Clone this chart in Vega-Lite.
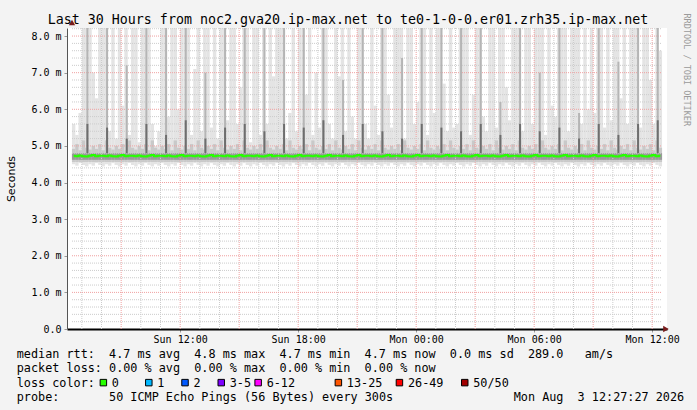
{
  "$schema": "https://vega.github.io/schema/vega-lite/v6.json",
  "background": "#f3f3f3",
  "padding": {"left": 5, "top": 13, "right": 6, "bottom": 6},
  "spacing": 3,
  "title": {"text": "RRDTOOL / TOBI OETIKER", "orient": "right", "anchor": "start", "font": "DejaVu Sans Mono", "fontSize": 8.5, "fontWeight": "normal", "color": "#9a9a9a", "offset": -2},
  "config": {"view": {"stroke": null}, "axisY": {"labelOverlap": false}},
  "datasets": {
    "smoke": [
      {"t":"2026-08-02T06:35","lo":4.5,"p":4.92,"hi":5.6,"m":4.73},
      {"t":"2026-08-02T06:45","lo":4.46,"p":5.05,"hi":5.3,"m":4.72},
      {"t":"2026-08-02T06:55","lo":4.53,"p":4.88,"hi":5.9,"m":4.74},
      {"t":"2026-08-02T07:05","lo":4.48,"p":5.15,"hi":8.4,"m":4.72},
      {"t":"2026-08-02T07:15","lo":4.44,"p":4.95,"hi":8.4,"m":4.71},
      {"t":"2026-08-02T07:25","lo":4.5,"p":4.9,"hi":8.4,"m":4.73},
      {"t":"2026-08-02T07:35","lo":4.46,"p":5.0,"hi":7.0,"m":4.75},
      {"t":"2026-08-02T07:45","lo":4.53,"p":4.92,"hi":6.3,"m":4.72},
      {"t":"2026-08-02T07:55","lo":4.48,"p":5.05,"hi":8.4,"m":4.73},
      {"t":"2026-08-02T08:05","lo":4.44,"p":4.88,"hi":8.4,"m":4.73},
      {"t":"2026-08-02T08:15","lo":4.5,"p":5.15,"hi":8.4,"m":4.72},
      {"t":"2026-08-02T08:25","lo":4.46,"p":4.95,"hi":5.4,"m":4.74},
      {"t":"2026-08-02T08:35","lo":4.53,"p":4.9,"hi":8.4,"m":4.72},
      {"t":"2026-08-02T08:45","lo":4.48,"p":5.0,"hi":5.2,"m":4.71},
      {"t":"2026-08-02T08:55","lo":4.44,"p":4.92,"hi":8.4,"m":4.73},
      {"t":"2026-08-02T09:05","lo":4.5,"p":5.05,"hi":6.1,"m":4.75},
      {"t":"2026-08-02T09:15","lo":4.46,"p":4.88,"hi":8.4,"m":4.72},
      {"t":"2026-08-02T09:25","lo":4.53,"p":5.15,"hi":5.3,"m":4.73},
      {"t":"2026-08-02T09:35","lo":4.48,"p":4.95,"hi":8.4,"m":4.73},
      {"t":"2026-08-02T09:45","lo":4.44,"p":4.9,"hi":8.4,"m":4.72},
      {"t":"2026-08-02T09:55","lo":4.5,"p":5.0,"hi":5.1,"m":4.74},
      {"t":"2026-08-02T10:05","lo":4.46,"p":4.92,"hi":8.4,"m":4.72},
      {"t":"2026-08-02T10:15","lo":4.53,"p":5.05,"hi":8.4,"m":4.71},
      {"t":"2026-08-02T10:25","lo":4.48,"p":4.88,"hi":8.4,"m":4.73},
      {"t":"2026-08-02T10:35","lo":4.44,"p":5.15,"hi":5.6,"m":4.75},
      {"t":"2026-08-02T10:45","lo":4.5,"p":4.95,"hi":5.0,"m":4.72},
      {"t":"2026-08-02T10:55","lo":4.46,"p":4.9,"hi":5.4,"m":4.73},
      {"t":"2026-08-02T11:05","lo":4.53,"p":5.0,"hi":8.4,"m":4.73},
      {"t":"2026-08-02T11:15","lo":4.48,"p":4.92,"hi":8.4,"m":4.72},
      {"t":"2026-08-02T11:25","lo":4.44,"p":5.05,"hi":5.8,"m":4.74},
      {"t":"2026-08-02T11:35","lo":4.5,"p":4.88,"hi":8.4,"m":4.72},
      {"t":"2026-08-02T11:45","lo":4.46,"p":5.15,"hi":8.4,"m":4.71},
      {"t":"2026-08-02T11:55","lo":4.53,"p":4.95,"hi":6.0,"m":4.73},
      {"t":"2026-08-02T12:05","lo":4.48,"p":4.9,"hi":8.4,"m":4.75},
      {"t":"2026-08-02T12:15","lo":4.44,"p":5.0,"hi":8.4,"m":4.72},
      {"t":"2026-08-02T12:25","lo":4.5,"p":4.92,"hi":8.4,"m":4.73},
      {"t":"2026-08-02T12:35","lo":4.46,"p":5.05,"hi":5.3,"m":4.73},
      {"t":"2026-08-02T12:45","lo":4.53,"p":4.88,"hi":7.1,"m":4.72},
      {"t":"2026-08-02T12:55","lo":4.48,"p":5.15,"hi":8.4,"m":4.74},
      {"t":"2026-08-02T13:05","lo":4.44,"p":4.95,"hi":5.4,"m":4.72},
      {"t":"2026-08-02T13:15","lo":4.5,"p":4.9,"hi":8.4,"m":4.71},
      {"t":"2026-08-02T13:25","lo":4.46,"p":5.0,"hi":8.4,"m":4.73},
      {"t":"2026-08-02T13:35","lo":4.53,"p":4.92,"hi":5.5,"m":4.75},
      {"t":"2026-08-02T13:45","lo":4.48,"p":5.05,"hi":8.4,"m":4.72},
      {"t":"2026-08-02T13:55","lo":4.44,"p":4.88,"hi":5.2,"m":4.73},
      {"t":"2026-08-02T14:05","lo":4.5,"p":5.15,"hi":8.4,"m":4.73},
      {"t":"2026-08-02T14:15","lo":4.46,"p":4.95,"hi":8.4,"m":4.72},
      {"t":"2026-08-02T14:25","lo":4.53,"p":4.9,"hi":5.7,"m":4.74},
      {"t":"2026-08-02T14:35","lo":4.48,"p":5.0,"hi":8.4,"m":4.72},
      {"t":"2026-08-02T14:45","lo":4.44,"p":4.92,"hi":8.4,"m":4.71},
      {"t":"2026-08-02T14:55","lo":4.5,"p":5.05,"hi":5.6,"m":4.73},
      {"t":"2026-08-02T15:05","lo":4.46,"p":4.88,"hi":6.6,"m":4.75},
      {"t":"2026-08-02T15:15","lo":4.53,"p":5.15,"hi":8.4,"m":4.72},
      {"t":"2026-08-02T15:25","lo":4.48,"p":4.95,"hi":8.4,"m":4.73},
      {"t":"2026-08-02T15:35","lo":4.44,"p":4.9,"hi":5.1,"m":4.73},
      {"t":"2026-08-02T15:45","lo":4.5,"p":5.0,"hi":8.4,"m":4.72},
      {"t":"2026-08-02T15:55","lo":4.46,"p":4.92,"hi":8.4,"m":4.74},
      {"t":"2026-08-02T16:05","lo":4.53,"p":5.05,"hi":5.3,"m":4.72},
      {"t":"2026-08-02T16:15","lo":4.48,"p":4.88,"hi":8.4,"m":4.71},
      {"t":"2026-08-02T16:25","lo":4.44,"p":5.15,"hi":5.6,"m":4.73},
      {"t":"2026-08-02T16:35","lo":4.5,"p":4.95,"hi":8.4,"m":4.75},
      {"t":"2026-08-02T16:45","lo":4.46,"p":4.9,"hi":6.9,"m":4.72},
      {"t":"2026-08-02T16:55","lo":4.53,"p":5.0,"hi":8.4,"m":4.73},
      {"t":"2026-08-02T17:05","lo":4.48,"p":4.92,"hi":8.4,"m":4.73},
      {"t":"2026-08-02T17:15","lo":4.44,"p":5.05,"hi":8.4,"m":4.72},
      {"t":"2026-08-02T17:25","lo":4.5,"p":4.88,"hi":5.2,"m":4.74},
      {"t":"2026-08-02T17:35","lo":4.46,"p":5.15,"hi":5.9,"m":4.72},
      {"t":"2026-08-02T17:45","lo":4.53,"p":4.95,"hi":8.4,"m":4.71},
      {"t":"2026-08-02T17:55","lo":4.48,"p":4.9,"hi":5.4,"m":4.73},
      {"t":"2026-08-02T18:05","lo":4.44,"p":5.0,"hi":8.4,"m":4.75},
      {"t":"2026-08-02T18:15","lo":4.5,"p":4.92,"hi":8.4,"m":4.72},
      {"t":"2026-08-02T18:25","lo":4.46,"p":5.05,"hi":6.4,"m":4.73},
      {"t":"2026-08-02T18:35","lo":4.53,"p":4.88,"hi":8.4,"m":4.73},
      {"t":"2026-08-02T18:45","lo":4.48,"p":5.15,"hi":5.3,"m":4.72},
      {"t":"2026-08-02T18:55","lo":4.44,"p":4.95,"hi":7.0,"m":4.74},
      {"t":"2026-08-02T19:05","lo":4.5,"p":4.9,"hi":5.5,"m":4.72},
      {"t":"2026-08-02T19:15","lo":4.46,"p":5.0,"hi":8.4,"m":4.71},
      {"t":"2026-08-02T19:25","lo":4.53,"p":4.92,"hi":8.4,"m":4.73},
      {"t":"2026-08-02T19:35","lo":4.48,"p":5.05,"hi":5.6,"m":4.75},
      {"t":"2026-08-02T19:45","lo":4.44,"p":4.88,"hi":5.2,"m":4.72},
      {"t":"2026-08-02T19:55","lo":4.5,"p":5.15,"hi":8.4,"m":4.73},
      {"t":"2026-08-02T20:05","lo":4.46,"p":4.95,"hi":6.9,"m":4.73},
      {"t":"2026-08-02T20:15","lo":4.53,"p":4.9,"hi":8.4,"m":4.72},
      {"t":"2026-08-02T20:25","lo":4.48,"p":5.0,"hi":5.4,"m":4.74},
      {"t":"2026-08-02T20:35","lo":4.44,"p":4.92,"hi":8.4,"m":4.72},
      {"t":"2026-08-02T20:45","lo":4.5,"p":5.05,"hi":5.8,"m":4.71},
      {"t":"2026-08-02T20:55","lo":4.46,"p":4.88,"hi":5.2,"m":4.73},
      {"t":"2026-08-02T21:05","lo":4.53,"p":5.15,"hi":8.4,"m":4.75},
      {"t":"2026-08-02T21:15","lo":4.48,"p":4.95,"hi":8.4,"m":4.72},
      {"t":"2026-08-02T21:25","lo":4.44,"p":4.9,"hi":5.6,"m":4.73},
      {"t":"2026-08-02T21:35","lo":4.5,"p":5.0,"hi":5.2,"m":4.73},
      {"t":"2026-08-02T21:45","lo":4.46,"p":4.92,"hi":8.4,"m":4.72},
      {"t":"2026-08-02T21:55","lo":4.53,"p":5.05,"hi":6.1,"m":4.74},
      {"t":"2026-08-02T22:05","lo":4.48,"p":4.88,"hi":5.3,"m":4.72},
      {"t":"2026-08-02T22:15","lo":4.44,"p":5.15,"hi":8.4,"m":4.71},
      {"t":"2026-08-02T22:25","lo":4.5,"p":4.95,"hi":8.4,"m":4.73},
      {"t":"2026-08-02T22:35","lo":4.46,"p":4.9,"hi":6.4,"m":4.75},
      {"t":"2026-08-02T22:45","lo":4.53,"p":5.0,"hi":5.5,"m":4.72},
      {"t":"2026-08-02T22:55","lo":4.48,"p":4.92,"hi":8.4,"m":4.73},
      {"t":"2026-08-02T23:05","lo":4.44,"p":5.05,"hi":8.4,"m":4.73},
      {"t":"2026-08-02T23:15","lo":4.5,"p":4.88,"hi":8.4,"m":4.72},
      {"t":"2026-08-02T23:25","lo":4.46,"p":5.15,"hi":5.2,"m":4.74},
      {"t":"2026-08-02T23:35","lo":4.53,"p":4.95,"hi":8.4,"m":4.72},
      {"t":"2026-08-02T23:45","lo":4.48,"p":4.9,"hi":8.4,"m":4.71},
      {"t":"2026-08-02T23:55","lo":4.44,"p":5.0,"hi":5.6,"m":4.73},
      {"t":"2026-08-03T00:05","lo":4.5,"p":4.92,"hi":6.2,"m":4.75},
      {"t":"2026-08-03T00:15","lo":4.46,"p":5.05,"hi":8.4,"m":4.72},
      {"t":"2026-08-03T00:25","lo":4.53,"p":4.88,"hi":8.4,"m":4.73},
      {"t":"2026-08-03T00:35","lo":4.48,"p":5.15,"hi":5.3,"m":4.73},
      {"t":"2026-08-03T00:45","lo":4.44,"p":4.95,"hi":8.4,"m":4.72},
      {"t":"2026-08-03T00:55","lo":4.5,"p":4.9,"hi":5.9,"m":4.74},
      {"t":"2026-08-03T01:05","lo":4.46,"p":5.0,"hi":8.4,"m":4.72},
      {"t":"2026-08-03T01:15","lo":4.53,"p":4.92,"hi":8.4,"m":4.71},
      {"t":"2026-08-03T01:25","lo":4.48,"p":5.05,"hi":6.7,"m":4.73},
      {"t":"2026-08-03T01:35","lo":4.44,"p":4.88,"hi":5.4,"m":4.75},
      {"t":"2026-08-03T01:45","lo":4.5,"p":5.15,"hi":8.4,"m":4.72},
      {"t":"2026-08-03T01:55","lo":4.46,"p":4.95,"hi":5.5,"m":4.73},
      {"t":"2026-08-03T02:05","lo":4.53,"p":4.9,"hi":5.6,"m":4.73},
      {"t":"2026-08-03T02:15","lo":4.48,"p":5.0,"hi":8.4,"m":4.72},
      {"t":"2026-08-03T02:25","lo":4.44,"p":4.92,"hi":8.4,"m":4.74},
      {"t":"2026-08-03T02:35","lo":4.5,"p":5.05,"hi":8.4,"m":4.72},
      {"t":"2026-08-03T02:45","lo":4.46,"p":4.88,"hi":5.3,"m":4.71},
      {"t":"2026-08-03T02:55","lo":4.53,"p":5.15,"hi":6.4,"m":4.73},
      {"t":"2026-08-03T03:05","lo":4.48,"p":4.95,"hi":8.4,"m":4.75},
      {"t":"2026-08-03T03:15","lo":4.44,"p":4.9,"hi":8.4,"m":4.72},
      {"t":"2026-08-03T03:25","lo":4.5,"p":5.0,"hi":5.8,"m":4.73},
      {"t":"2026-08-03T03:35","lo":4.46,"p":4.92,"hi":5.4,"m":4.73},
      {"t":"2026-08-03T03:45","lo":4.53,"p":5.05,"hi":8.4,"m":4.72},
      {"t":"2026-08-03T03:55","lo":4.48,"p":4.88,"hi":8.4,"m":4.74},
      {"t":"2026-08-03T04:05","lo":4.44,"p":5.15,"hi":5.5,"m":4.72},
      {"t":"2026-08-03T04:15","lo":4.5,"p":4.95,"hi":8.4,"m":4.71},
      {"t":"2026-08-03T04:25","lo":4.46,"p":4.9,"hi":8.4,"m":4.73},
      {"t":"2026-08-03T04:35","lo":4.53,"p":5.0,"hi":6.6,"m":4.75},
      {"t":"2026-08-03T04:45","lo":4.48,"p":4.92,"hi":5.7,"m":4.72},
      {"t":"2026-08-03T04:55","lo":4.44,"p":5.05,"hi":8.4,"m":4.73},
      {"t":"2026-08-03T05:05","lo":4.5,"p":4.88,"hi":8.4,"m":4.73},
      {"t":"2026-08-03T05:15","lo":4.46,"p":5.15,"hi":8.4,"m":4.72},
      {"t":"2026-08-03T05:25","lo":4.53,"p":4.95,"hi":5.4,"m":4.74},
      {"t":"2026-08-03T05:35","lo":4.48,"p":4.9,"hi":8.4,"m":4.72},
      {"t":"2026-08-03T05:45","lo":4.44,"p":5.0,"hi":8.4,"m":4.71},
      {"t":"2026-08-03T05:55","lo":4.5,"p":4.92,"hi":5.6,"m":4.73},
      {"t":"2026-08-03T06:05","lo":4.46,"p":5.05,"hi":8.4,"m":4.75},
      {"t":"2026-08-03T06:15","lo":4.53,"p":4.88,"hi":8.4,"m":4.72},
      {"t":"2026-08-03T06:25","lo":4.48,"p":5.15,"hi":8.4,"m":4.73},
      {"t":"2026-08-03T06:35","lo":4.44,"p":4.95,"hi":5.3,"m":4.73},
      {"t":"2026-08-03T06:45","lo":4.5,"p":4.9,"hi":8.4,"m":4.72},
      {"t":"2026-08-03T06:55","lo":4.46,"p":5.0,"hi":6.1,"m":4.74},
      {"t":"2026-08-03T07:05","lo":4.53,"p":4.92,"hi":5.8,"m":4.72},
      {"t":"2026-08-03T07:15","lo":4.48,"p":5.05,"hi":8.4,"m":4.71},
      {"t":"2026-08-03T07:25","lo":4.44,"p":4.88,"hi":8.4,"m":4.73},
      {"t":"2026-08-03T07:35","lo":4.5,"p":5.15,"hi":8.4,"m":4.75},
      {"t":"2026-08-03T07:45","lo":4.46,"p":4.95,"hi":5.4,"m":4.72},
      {"t":"2026-08-03T07:55","lo":4.53,"p":4.9,"hi":8.4,"m":4.73},
      {"t":"2026-08-03T08:05","lo":4.48,"p":5.0,"hi":8.4,"m":4.73},
      {"t":"2026-08-03T08:15","lo":4.44,"p":4.92,"hi":8.4,"m":4.72},
      {"t":"2026-08-03T08:25","lo":4.5,"p":5.05,"hi":5.6,"m":4.74},
      {"t":"2026-08-03T08:35","lo":4.46,"p":4.88,"hi":8.4,"m":4.72},
      {"t":"2026-08-03T08:45","lo":4.53,"p":5.15,"hi":6.0,"m":4.71},
      {"t":"2026-08-03T08:55","lo":4.48,"p":4.95,"hi":8.4,"m":4.73},
      {"t":"2026-08-03T09:05","lo":4.44,"p":4.9,"hi":5.9,"m":4.75},
      {"t":"2026-08-03T09:15","lo":4.5,"p":5.0,"hi":8.4,"m":4.72},
      {"t":"2026-08-03T09:25","lo":4.46,"p":4.92,"hi":8.4,"m":4.73},
      {"t":"2026-08-03T09:35","lo":4.53,"p":5.05,"hi":5.5,"m":4.73},
      {"t":"2026-08-03T09:45","lo":4.48,"p":4.88,"hi":8.4,"m":4.72},
      {"t":"2026-08-03T09:55","lo":4.44,"p":5.15,"hi":5.7,"m":4.74},
      {"t":"2026-08-03T10:05","lo":4.5,"p":4.95,"hi":8.4,"m":4.72},
      {"t":"2026-08-03T10:15","lo":4.46,"p":4.9,"hi":8.4,"m":4.71},
      {"t":"2026-08-03T10:25","lo":4.53,"p":5.0,"hi":6.3,"m":4.73},
      {"t":"2026-08-03T10:35","lo":4.48,"p":4.92,"hi":8.4,"m":4.75},
      {"t":"2026-08-03T10:45","lo":4.44,"p":5.05,"hi":5.6,"m":4.72},
      {"t":"2026-08-03T10:55","lo":4.5,"p":4.88,"hi":8.4,"m":4.73},
      {"t":"2026-08-03T11:05","lo":4.46,"p":5.15,"hi":8.4,"m":4.73},
      {"t":"2026-08-03T11:15","lo":4.53,"p":4.95,"hi":8.4,"m":4.72},
      {"t":"2026-08-03T11:25","lo":4.48,"p":4.9,"hi":5.5,"m":4.74},
      {"t":"2026-08-03T11:35","lo":4.44,"p":5.0,"hi":8.4,"m":4.72},
      {"t":"2026-08-03T11:45","lo":4.5,"p":4.92,"hi":8.4,"m":4.71},
      {"t":"2026-08-03T11:55","lo":4.46,"p":5.05,"hi":6.8,"m":4.73},
      {"t":"2026-08-03T12:05","lo":4.53,"p":4.88,"hi":5.6,"m":4.75},
      {"t":"2026-08-03T12:15","lo":4.48,"p":5.15,"hi":8.4,"m":4.72},
      {"t":"2026-08-03T12:25","lo":4.44,"p":4.95,"hi":7.6,"m":4.73}
    ],
    "spikes": [
      {"t":"2026-08-02T07:17","top":8.4,"dk":5.6},
      {"t":"2026-08-02T08:17","top":8.4,"dk":5.5},
      {"t":"2026-08-02T09:17","top":7.2,"dk":5.2},
      {"t":"2026-08-02T10:17","top":8.4,"dk":5.6},
      {"t":"2026-08-02T11:17","top":8.4,"dk":5.3},
      {"t":"2026-08-02T12:17","top":8.4,"dk":5.7},
      {"t":"2026-08-02T13:17","top":7.0,"dk":5.2},
      {"t":"2026-08-02T14:17","top":8.4,"dk":5.5},
      {"t":"2026-08-02T15:17","top":8.4,"dk":5.6},
      {"t":"2026-08-02T16:17","top":8.4,"dk":5.4},
      {"t":"2026-08-02T17:17","top":8.4,"dk":5.6},
      {"t":"2026-08-02T18:17","top":8.4,"dk":5.5},
      {"t":"2026-08-02T19:17","top":8.4,"dk":5.7},
      {"t":"2026-08-02T20:17","top":6.8,"dk":5.3},
      {"t":"2026-08-02T21:17","top":8.4,"dk":5.6},
      {"t":"2026-08-02T22:17","top":8.4,"dk":5.4},
      {"t":"2026-08-02T23:17","top":7.4,"dk":5.2},
      {"t":"2026-08-03T00:17","top":8.4,"dk":5.6},
      {"t":"2026-08-03T01:17","top":8.4,"dk":5.5},
      {"t":"2026-08-03T02:17","top":8.4,"dk":5.4},
      {"t":"2026-08-03T03:17","top":8.4,"dk":5.6},
      {"t":"2026-08-03T04:17","top":6.2,"dk":5.3},
      {"t":"2026-08-03T05:17","top":8.4,"dk":5.6},
      {"t":"2026-08-03T06:17","top":7.0,"dk":5.4},
      {"t":"2026-08-03T07:17","top":8.4,"dk":5.5},
      {"t":"2026-08-03T08:17","top":5.9,"dk":5.2},
      {"t":"2026-08-03T09:17","top":8.4,"dk":5.6},
      {"t":"2026-08-03T10:17","top":7.3,"dk":5.3},
      {"t":"2026-08-03T11:17","top":8.4,"dk":5.6},
      {"t":"2026-08-03T12:17","top":8.4,"dk":5.7}
    ],
    "vgrid": [
      {"t":"2026-08-02T07:00","k":"minor"},{"t":"2026-08-02T08:00","k":"minor"},{"t":"2026-08-02T09:00","k":"major"},
      {"t":"2026-08-02T10:00","k":"minor"},{"t":"2026-08-02T11:00","k":"minor"},{"t":"2026-08-02T12:00","k":"major"},
      {"t":"2026-08-02T13:00","k":"minor"},{"t":"2026-08-02T14:00","k":"minor"},{"t":"2026-08-02T15:00","k":"major"},
      {"t":"2026-08-02T16:00","k":"minor"},{"t":"2026-08-02T17:00","k":"minor"},{"t":"2026-08-02T18:00","k":"major"},
      {"t":"2026-08-02T19:00","k":"minor"},{"t":"2026-08-02T20:00","k":"minor"},{"t":"2026-08-02T21:00","k":"major"},
      {"t":"2026-08-02T22:00","k":"minor"},{"t":"2026-08-02T23:00","k":"minor"},{"t":"2026-08-03T00:00","k":"major"},
      {"t":"2026-08-03T01:00","k":"minor"},{"t":"2026-08-03T02:00","k":"minor"},{"t":"2026-08-03T03:00","k":"major"},
      {"t":"2026-08-03T04:00","k":"minor"},{"t":"2026-08-03T05:00","k":"minor"},{"t":"2026-08-03T06:00","k":"major"},
      {"t":"2026-08-03T07:00","k":"minor"},{"t":"2026-08-03T08:00","k":"minor"},{"t":"2026-08-03T09:00","k":"major"},
      {"t":"2026-08-03T10:00","k":"minor"},{"t":"2026-08-03T11:00","k":"minor"},{"t":"2026-08-03T12:00","k":"major"}
    ],
    "hgrid": [
      {"v":0.2,"k":"minor"},{"v":0.4,"k":"minor"},{"v":0.6,"k":"minor"},{"v":0.8,"k":"minor"},{"v":1,"k":"major"},
      {"v":1.2,"k":"minor"},{"v":1.4,"k":"minor"},{"v":1.6,"k":"minor"},{"v":1.8,"k":"minor"},{"v":2,"k":"major"},
      {"v":2.2,"k":"minor"},{"v":2.4,"k":"minor"},{"v":2.6,"k":"minor"},{"v":2.8,"k":"minor"},{"v":3,"k":"major"},
      {"v":3.2,"k":"minor"},{"v":3.4,"k":"minor"},{"v":3.6,"k":"minor"},{"v":3.8,"k":"minor"},{"v":4,"k":"major"},
      {"v":4.2,"k":"minor"},{"v":4.4,"k":"minor"},{"v":4.6,"k":"minor"},{"v":4.8,"k":"minor"},{"v":5,"k":"major"},
      {"v":5.2,"k":"minor"},{"v":5.4,"k":"minor"},{"v":5.6,"k":"minor"},{"v":5.8,"k":"minor"},{"v":6,"k":"major"},
      {"v":6.2,"k":"minor"},{"v":6.4,"k":"minor"},{"v":6.6,"k":"minor"},{"v":6.8,"k":"minor"},{"v":7,"k":"major"},
      {"v":7.2,"k":"minor"},{"v":7.4,"k":"minor"},{"v":7.6,"k":"minor"},{"v":7.8,"k":"minor"},{"v":8,"k":"major"},
      {"v":8.2,"k":"minor"}
    ],
    "legend": [
      {"row":0,"col":0,"text":"median rtt:"},
      {"row":0,"col":13,"text":"4.7 ms avg"},
      {"row":0,"col":25,"text":"4.8 ms max"},
      {"row":0,"col":37,"text":"4.7 ms min"},
      {"row":0,"col":49,"text":"4.7 ms now"},
      {"row":0,"col":61,"text":"0.0 ms sd"},
      {"row":0,"col":72,"text":"289.0"},
      {"row":0,"col":80,"text":"am/s"},
      {"row":1,"col":0,"text":"packet loss:"},
      {"row":1,"col":13,"text":"0.00 % avg"},
      {"row":1,"col":25,"text":"0.00 % max"},
      {"row":1,"col":37,"text":"0.00 % min"},
      {"row":1,"col":49,"text":"0.00 % now"},
      {"row":2,"col":0,"text":"loss color:"},
      {"row":2,"col":13.4,"text":"0","loss":"0"},
      {"row":2,"col":19.8,"text":"1","loss":"1"},
      {"row":2,"col":24.9,"text":"2","loss":"2"},
      {"row":2,"col":30.0,"text":"3-5","loss":"3-5"},
      {"row":2,"col":35.2,"text":"6-12","loss":"6-12"},
      {"row":2,"col":46.5,"text":"13-25","loss":"13-25"},
      {"row":2,"col":55.1,"text":"26-49","loss":"26-49"},
      {"row":2,"col":64.3,"text":"50/50","loss":"50/50"},
      {"row":3,"col":0,"text":"probe:"},
      {"row":3,"col":13,"text":"50 ICMP Echo Pings (56 Bytes) every 300s"},
      {"row":3,"col":70,"text":"Mon Aug"},
      {"row":3,"col":79,"text":"3 12:27:27 2026"}
    ]
  },
  "vconcat": [
    {
      "width": 600,
      "height": 301,
      "view": {"fill": "white", "stroke": null},
      "title": {"text": "Last 30 Hours from noc2.gva20.ip-max.net to te0-1-0-0.er01.zrh35.ip-max.net", "font": "DejaVu Sans Mono", "fontSize": 13.3, "fontWeight": "normal", "color": "black", "anchor": "middle", "offset": -7, "dx": -19},
      "layer": [
        {
          "data": {"name": "smoke"},
          "mark": {"type": "bar", "width": 3.4, "clip": true, "color": "#e4e4e4"},
          "encoding": {
            "x": {"field": "t", "type": "temporal",
              "scale": {"domain": [{"year":2026,"month":8,"date":2,"hours":6,"minutes":30},{"year":2026,"month":8,"date":3,"hours":12,"minutes":30}], "nice": false},
              "axis": {"values": [{"year":2026,"month":8,"date":2,"hours":12},{"year":2026,"month":8,"date":2,"hours":18},{"year":2026,"month":8,"date":3,"hours":0},{"year":2026,"month":8,"date":3,"hours":6},{"year":2026,"month":8,"date":3,"hours":12}],
                "format": "%a %H:%M", "title": null, "grid": false, "labelFont": "DejaVu Sans Mono", "labelFontSize": 10, "labelColor": "black", "labelPadding": 2, "labelFlush": false, "labelOverlap": false, "tickSize": 3, "tickColor": "#999999", "domainColor": "black", "domainWidth": 2}},
            "y": {"field": "hi", "type": "quantitative",
              "scale": {"domain": [0, 8.22], "nice": false, "zero": false},
              "axis": {"values": [0,1,2,3,4,5,6,7,8], "labelExpr": "datum.value == 0 ? '0.0' : format(datum.value, '.1f') + ' m'", "title": "Seconds", "titleFont": "DejaVu Sans", "titleFontSize": 11, "titleFontWeight": "normal", "titleColor": "black", "titlePadding": 14, "grid": false, "labelFont": "DejaVu Sans Mono", "labelFontSize": 10, "labelColor": "black", "labelPadding": 3, "labelOverlap": false, "tickSize": 3, "tickColor": "#999999", "domainColor": "#555555"}},
            "y2": {"field": "lo"}
          }
        },
        {
          "data": {"name": "smoke"},
          "mark": {"type": "bar", "width": 3.4, "clip": true, "color": "#c9c9c9"},
          "encoding": {
            "x": {"field": "t", "type": "temporal"},
            "y": {"field": "p", "type": "quantitative",
              "axis": {"values": [0,1,2,3,4,5,6,7,8], "labelExpr": "datum.value == 0 ? '0.0' : format(datum.value, '.1f') + ' m'", "title": "Seconds", "titleFont": "DejaVu Sans", "titleFontSize": 11, "titleFontWeight": "normal", "titleColor": "black", "titlePadding": 14, "grid": false, "labelFont": "DejaVu Sans Mono", "labelFontSize": 10, "labelColor": "black", "labelPadding": 3, "labelOverlap": false, "tickSize": 3, "tickColor": "#999999", "domainColor": "#555555"}},
            "y2": {"datum": 4.56}
          }
        },
        {
          "data": {"name": "smoke"},
          "mark": {"type": "bar", "width": 3.4, "clip": true, "color": "#9a9a9a"},
          "encoding": {
            "x": {"field": "t", "type": "temporal"},
            "y": {"datum": 4.8, "type": "quantitative",
              "axis": {"values": [0,1,2,3,4,5,6,7,8], "labelExpr": "datum.value == 0 ? '0.0' : format(datum.value, '.1f') + ' m'", "title": "Seconds", "titleFont": "DejaVu Sans", "titleFontSize": 11, "titleFontWeight": "normal", "titleColor": "black", "titlePadding": 14, "grid": false, "labelFont": "DejaVu Sans Mono", "labelFontSize": 10, "labelColor": "black", "labelPadding": 3, "labelOverlap": false, "tickSize": 3, "tickColor": "#999999", "domainColor": "#555555"}},
            "y2": {"datum": 4.62}
          }
        },
        {
          "data": {"name": "vgrid"},
          "transform": [{"filter": "datum.k == 'minor'"}],
          "mark": {"type": "rule", "color": "#cccccc", "strokeDash": [1, 1], "strokeWidth": 1},
          "encoding": {"x": {"field": "t", "type": "temporal"}}
        },
        {
          "data": {"name": "vgrid"},
          "transform": [{"filter": "datum.k == 'major'"}],
          "mark": {"type": "rule", "color": "#f0a0a0", "strokeDash": [1, 1], "strokeWidth": 1},
          "encoding": {"x": {"field": "t", "type": "temporal"}}
        },
        {
          "data": {"name": "hgrid"},
          "transform": [{"filter": "datum.k == 'minor'"}],
          "mark": {"type": "rule", "color": "#cccccc", "strokeDash": [1, 1], "strokeWidth": 1},
          "encoding": {
            "x": {"datum": {"year":2026,"month":8,"date":2,"hours":6,"minutes":30}, "type": "temporal"},
            "x2": {"datum": {"year":2026,"month":8,"date":3,"hours":12,"minutes":30}},
            "y": {"field": "v", "type": "quantitative",
              "axis": {"values": [0,1,2,3,4,5,6,7,8], "labelExpr": "datum.value == 0 ? '0.0' : format(datum.value, '.1f') + ' m'", "title": "Seconds", "titleFont": "DejaVu Sans", "titleFontSize": 11, "titleFontWeight": "normal", "titleColor": "black", "titlePadding": 14, "grid": false, "labelFont": "DejaVu Sans Mono", "labelFontSize": 10, "labelColor": "black", "labelPadding": 3, "labelOverlap": false, "tickSize": 3, "tickColor": "#999999", "domainColor": "#555555"}}
          }
        },
        {
          "data": {"name": "hgrid"},
          "transform": [{"filter": "datum.k == 'major'"}],
          "mark": {"type": "rule", "color": "#f0a0a0", "strokeDash": [1, 1], "strokeWidth": 1},
          "encoding": {
            "x": {"datum": {"year":2026,"month":8,"date":2,"hours":6,"minutes":30}, "type": "temporal"},
            "x2": {"datum": {"year":2026,"month":8,"date":3,"hours":12,"minutes":30}},
            "y": {"field": "v", "type": "quantitative",
              "axis": {"values": [0,1,2,3,4,5,6,7,8], "labelExpr": "datum.value == 0 ? '0.0' : format(datum.value, '.1f') + ' m'", "title": "Seconds", "titleFont": "DejaVu Sans", "titleFontSize": 11, "titleFontWeight": "normal", "titleColor": "black", "titlePadding": 14, "grid": false, "labelFont": "DejaVu Sans Mono", "labelFontSize": 10, "labelColor": "black", "labelPadding": 3, "labelOverlap": false, "tickSize": 3, "tickColor": "#999999", "domainColor": "#555555"}}
          }
        },
        {
          "data": {"name": "spikes"},
          "mark": {"type": "bar", "width": 2, "clip": true, "color": "#b5b5b5"},
          "encoding": {
            "x": {"field": "t", "type": "temporal"},
            "y": {"field": "top", "type": "quantitative",
              "axis": {"values": [0,1,2,3,4,5,6,7,8], "labelExpr": "datum.value == 0 ? '0.0' : format(datum.value, '.1f') + ' m'", "title": "Seconds", "titleFont": "DejaVu Sans", "titleFontSize": 11, "titleFontWeight": "normal", "titleColor": "black", "titlePadding": 14, "grid": false, "labelFont": "DejaVu Sans Mono", "labelFontSize": 10, "labelColor": "black", "labelPadding": 3, "labelOverlap": false, "tickSize": 3, "tickColor": "#999999", "domainColor": "#555555"}},
            "y2": {"datum": 4.85}
          }
        },
        {
          "data": {"name": "spikes"},
          "mark": {"type": "bar", "width": 2, "clip": true, "color": "#6e6e6e"},
          "encoding": {
            "x": {"field": "t", "type": "temporal"},
            "y": {"field": "dk", "type": "quantitative",
              "axis": {"values": [0,1,2,3,4,5,6,7,8], "labelExpr": "datum.value == 0 ? '0.0' : format(datum.value, '.1f') + ' m'", "title": "Seconds", "titleFont": "DejaVu Sans", "titleFontSize": 11, "titleFontWeight": "normal", "titleColor": "black", "titlePadding": 14, "grid": false, "labelFont": "DejaVu Sans Mono", "labelFontSize": 10, "labelColor": "black", "labelPadding": 3, "labelOverlap": false, "tickSize": 3, "tickColor": "#999999", "domainColor": "#555555"}},
            "y2": {"datum": 4.8}
          }
        },
        {
          "data": {"name": "smoke"},
          "mark": {"type": "line", "interpolate": "step", "color": "#26ff00", "strokeWidth": 2},
          "encoding": {
            "x": {"field": "t", "type": "temporal"},
            "y": {"field": "m", "type": "quantitative",
              "axis": {"values": [0,1,2,3,4,5,6,7,8], "labelExpr": "datum.value == 0 ? '0.0' : format(datum.value, '.1f') + ' m'", "title": "Seconds", "titleFont": "DejaVu Sans", "titleFontSize": 11, "titleFontWeight": "normal", "titleColor": "black", "titlePadding": 14, "grid": false, "labelFont": "DejaVu Sans Mono", "labelFontSize": 10, "labelColor": "black", "labelPadding": 3, "labelOverlap": false, "tickSize": 3, "tickColor": "#999999", "domainColor": "#555555"}}
          }
        },
        {
          "data": {"values": [{}]},
          "mark": {"type": "point", "shape": "triangle-up", "filled": true, "color": "#7a1c1c", "size": 40, "opacity": 1},
          "encoding": {
            "x": {"datum": {"year":2026,"month":8,"date":2,"hours":6,"minutes":30}, "type": "temporal"},
            "y": {"datum": 8.37, "type": "quantitative",
              "axis": {"values": [0,1,2,3,4,5,6,7,8], "labelExpr": "datum.value == 0 ? '0.0' : format(datum.value, '.1f') + ' m'", "title": "Seconds", "titleFont": "DejaVu Sans", "titleFontSize": 11, "titleFontWeight": "normal", "titleColor": "black", "titlePadding": 14, "grid": false, "labelFont": "DejaVu Sans Mono", "labelFontSize": 10, "labelColor": "black", "labelPadding": 3, "labelOverlap": false, "tickSize": 3, "tickColor": "#999999", "domainColor": "#555555"}}
          }
        },
        {
          "data": {"values": [{}]},
          "mark": {"type": "point", "shape": "triangle-right", "filled": true, "color": "#7a1c1c", "size": 40, "opacity": 1},
          "encoding": {
            "x": {"datum": {"year":2026,"month":8,"date":3,"hours":12,"minutes":42}, "type": "temporal"},
            "y": {"datum": 0, "type": "quantitative",
              "axis": {"values": [0,1,2,3,4,5,6,7,8], "labelExpr": "datum.value == 0 ? '0.0' : format(datum.value, '.1f') + ' m'", "title": "Seconds", "titleFont": "DejaVu Sans", "titleFontSize": 11, "titleFontWeight": "normal", "titleColor": "black", "titlePadding": 14, "grid": false, "labelFont": "DejaVu Sans Mono", "labelFontSize": 10, "labelColor": "black", "labelPadding": 3, "labelOverlap": false, "tickSize": 3, "tickColor": "#999999", "domainColor": "#555555"}}
          }
        }
      ]
    },
    {
      "width": 600,
      "height": 57,
      "view": {"stroke": null},
      "data": {"name": "legend"},
      "layer": [
        {
          "mark": {"type": "text", "align": "left", "baseline": "middle", "font": "DejaVu Sans Mono", "fontSize": 11.8, "color": "black"},
          "encoding": {
            "x": {"field": "col", "type": "quantitative", "scale": {"domain": [7.08, 91.59], "nice": false, "zero": false}, "axis": null},
            "y": {"field": "row", "type": "quantitative", "scale": {"domain": [-0.5, 3.5], "reverse": true, "nice": false, "zero": false}, "axis": null},
            "text": {"field": "text"}
          }
        },
        {
          "transform": [{"filter": "isValid(datum.loss)"}],
          "mark": {"type": "point", "shape": "square", "filled": true, "size": 42, "stroke": "black", "strokeWidth": 1, "opacity": 1, "xOffset": -8.5},
          "encoding": {
            "x": {"field": "col", "type": "quantitative", "axis": null},
            "y": {"field": "row", "type": "quantitative", "axis": null},
            "color": {"field": "loss", "type": "nominal", "legend": null,
              "scale": {"domain": ["0", "1", "2", "3-5", "6-12", "13-25", "26-49", "50/50"], "range": ["#26ff00", "#00b8ff", "#0059ff", "#7e00ff", "#ff00ff", "#ff5500", "#ff0000", "#a10000"]}}
          }
        }
      ]
    }
  ]
}
